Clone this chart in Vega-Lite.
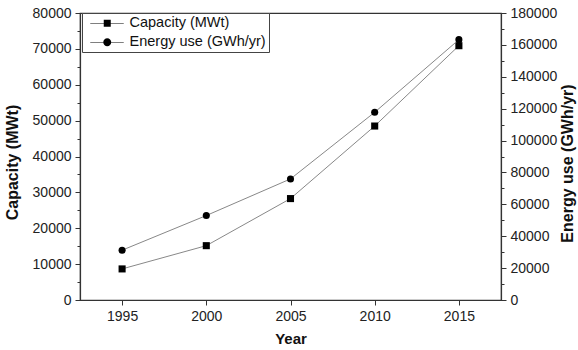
{
  "$schema": "https://vega.github.io/schema/vega-lite/v6.json",
  "width": 421,
  "height": 287,
  "autosize": {"type": "none"},
  "padding": {"left": 80, "top": 13, "right": 77, "bottom": 50},
  "background": "white",
  "config": {
    "font": "Liberation Sans",
    "view": {"stroke": "#333", "strokeWidth": 1.2},
    "axis": {
      "labelFont": "Liberation Sans",
      "labelFontSize": 14,
      "labelColor": "#222",
      "titleFont": "Liberation Sans",
      "titleFontSize": 16,
      "titleFontWeight": "bold",
      "titleColor": "#111",
      "domainColor": "#333",
      "domainWidth": 1.2,
      "tickColor": "#333",
      "tickWidth": 1,
      "grid": false,
      "labelOverlap": false,
      "labelFlush": false
    }
  },
  "data": {
    "values": [
      {"Year": 1995, "Capacity": 8664, "Energy": 31234},
      {"Year": 2000, "Capacity": 15145, "Energy": 52972},
      {"Year": 2005, "Capacity": 28269, "Energy": 75943},
      {"Year": 2010, "Capacity": 48493, "Energy": 117740},
      {"Year": 2015, "Capacity": 70885, "Energy": 163287}
    ]
  },
  "encoding": {
    "x": {
      "field": "Year",
      "type": "quantitative",
      "scale": {"domain": [1992.5, 2017.5], "nice": false, "zero": false},
      "axis": {
        "values": [1995, 2000, 2005, 2010, 2015],
        "format": "d",
        "title": "Year",
        "titleFontSize": 15,
        "tickSize": 5,
        "labelPadding": 4,
        "titlePadding": 8
      }
    }
  },
  "layer": [
    {
      "encoding": {
        "y": {
          "field": "Capacity",
          "type": "quantitative",
          "scale": {"domain": [0, 80000], "nice": false},
          "axis": {
            "orient": "left",
            "values": [0, 5000, 10000, 15000, 20000, 25000, 30000, 35000, 40000, 45000, 50000, 55000, 60000, 65000, 70000, 75000, 80000],
            "format": "d",
            "labelExpr": "datum.value % 10000 === 0 ? datum.label : ''",
            "tickSize": {"condition": {"test": "datum.value % 10000 === 0", "value": 5}, "value": 3},
            "labelPadding": 4,
            "title": "Capacity (MWt)",
            "titlePadding": 12,
            "titleY": 149
          }
        }
      },
      "layer": [
        {"mark": {"type": "line", "stroke": "#888", "strokeWidth": 1}},
        {"mark": {"type": "point", "shape": "square", "filled": true, "color": "black", "size": 50, "opacity": 1}},
        {
          "mark": {"type": "point", "filled": true, "color": "black", "size": 100, "opacity": 0},
          "encoding": {
            "shape": {
              "datum": "Capacity (MWt)",
              "type": "nominal",
              "scale": {
                "domain": ["Capacity (MWt)", "Energy use (GWh/yr)"],
                "range": [
                  "M-3.4,-0.07H-0.7V0.07H-3.4ZM0.7,-0.07H3.3V0.07H0.7ZM-0.7,-0.7H0.7V0.7H-0.7Z",
                  "M-3.4,-0.07H-0.8V0.07H-3.4ZM0.8,-0.07H3.3V0.07H0.8ZM-0.8,0A0.8,0.8,0,1,0,0.8,0A0.8,0.8,0,1,0,-0.8,0Z"
                ]
              },
              "legend": {
                "orient": "none",
                "legendX": 2,
                "legendY": 0,
                "title": null,
                "direction": "vertical",
                "padding": 3,
                "strokeColor": "#444",
                "fillColor": "white",
                "labelFont": "Liberation Sans",
                "labelFontSize": 14.5,
                "labelColor": "#111",
                "symbolSize": 100,
                "symbolOpacity": 1,
                "symbolFillColor": "black",
                "symbolStrokeWidth": 0,
                "symbolOffset": 15,
                "labelOffset": 15,
                "rowPadding": 4,
                "cornerRadius": 0
              }
            }
          }
        }
      ]
    },
    {
      "encoding": {
        "y": {
          "field": "Energy",
          "type": "quantitative",
          "scale": {"domain": [0, 180000], "nice": false},
          "axis": {
            "orient": "right",
            "values": [0, 10000, 20000, 30000, 40000, 50000, 60000, 70000, 80000, 90000, 100000, 110000, 120000, 130000, 140000, 150000, 160000, 170000, 180000],
            "format": "d",
            "labelExpr": "datum.value % 20000 === 0 ? datum.label : ''",
            "tickSize": {"condition": {"test": "datum.value % 20000 === 0", "value": 5}, "value": 3},
            "labelPadding": 4,
            "title": "Energy use (GWh/yr)",
            "titleAngle": 270,
            "titleBaseline": "top",
            "titlePadding": 3,
            "titleY": 150
          }
        }
      },
      "layer": [
        {"mark": {"type": "line", "stroke": "#888", "strokeWidth": 1}},
        {"mark": {"type": "point", "shape": "circle", "filled": true, "color": "black", "size": 50, "opacity": 1}},
        {
          "mark": {"type": "point", "filled": true, "color": "black", "size": 100, "opacity": 0},
          "encoding": {
            "shape": {"datum": "Energy use (GWh/yr)", "type": "nominal"}
          }
        }
      ]
    }
  ],
  "resolve": {"scale": {"y": "independent"}}
}
